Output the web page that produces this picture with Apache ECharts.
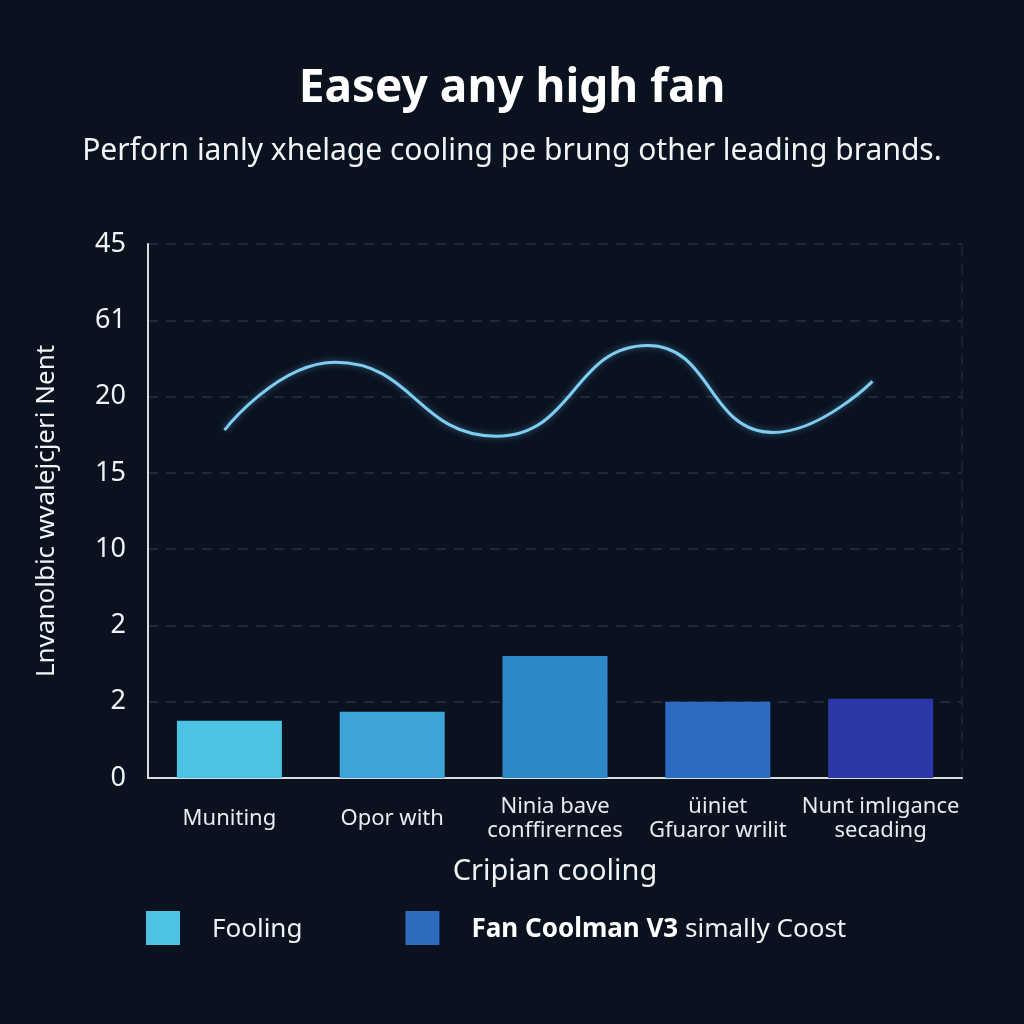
<!DOCTYPE html>
<html><head><meta charset="utf-8">
<script src="https://cdn.jsdelivr.net/npm/echarts@6/dist/echarts.min.js"></script>
<style>html,body{margin:0;padding:0;background:#0a1220;}#c{width:1024px;height:1024px;}</style>
</head><body><div id="c"></div>
<script>
const titleText = 'Easey any high fan';
const subtitleText = 'Perforn ianly xhelage cooling pe brung other leading brands.';
const categories = ['Muniting', 'Opor with', 'Ninia bave\nconffirernces', 'üiniet\nGfuaror wrilit', 'Nunt imlıgance\nsecading'];
const yTickLabels = ['0', '2', '2', '10', '15', '20', '61', '45'];
const barValues = [0.75, 0.87, 1.60, 1.00, 1.04];
const barColors = ['#4cc2e4', '#3ca4d6', '#2e88c8', '#2b6cc0', '#2c38a8'];
const lineX = [-0.03, 0.65, 1.64, 2.57, 3.34, 3.95];
const lineY = [4.56, 5.45, 4.48, 5.67, 4.53, 5.20];
const yAxisName = 'Lnvanolbic wvalejcjeri Nent';
const xAxisName = 'Cripian cooling';
const legendNames = ['Fooling', 'Fan Coolman V3 simally Coost'];

const font = 'Noto Sans';
const chart = echarts.init(document.getElementById('c'));
chart.setOption({
  backgroundColor: '#0a1220',
  animation: false,
  title: [
    {text: titleText, left: 'center', top: 61, textStyle: {color: '#ffffff', fontFamily: font, fontSize: 46, fontWeight: 'bold'}},
    {text: subtitleText, left: 'center', top: 131, textStyle: {color: '#f2f4f7', fontFamily: font, fontSize: 30, fontWeight: 'normal'}}
  ],
  grid: {left: 148, right: 62, top: 244, bottom: 246},
  legend: {
    left: 146, top: 911, padding: 0, itemWidth: 34, itemHeight: 34, itemGap: 103,
    data: [
      {name: legendNames[0], icon: 'rect', itemStyle: {color: '#4cc2e4'}},
      {name: legendNames[1], icon: 'rect', itemStyle: {color: '#2e6cc0'}}
    ],
    formatter: function (n) { return n === legendNames[1] ? '{b|Fan Coolman V3} simally Coost' : n; },
    textStyle: {color: '#f0f2f5', fontFamily: font, fontSize: 26, padding: [4, 0, 0, 27],
      rich: {b: {fontWeight: 'bold', fontSize: 26, color: '#ffffff', fontFamily: font}}}
  },
  xAxis: [
    {type: 'category', data: categories, name: xAxisName, nameLocation: 'middle', nameGap: 79,
     nameTextStyle: {color: '#f0f2f5', fontFamily: font, fontSize: 29},
     axisLine: {lineStyle: {color: '#d8dde4', width: 2}}, axisTick: {show: false},
     axisLabel: {color: '#e8ecf0', fontFamily: font, fontSize: 22, margin: 41, verticalAlign: 'middle', lineHeight: 24, interval: 0}},
    {type: 'value', min: -0.5, max: 4.5, show: false}
  ],
  yAxis: [
    {type: 'value', min: 0, max: 7, interval: 1, name: yAxisName, nameLocation: 'middle', nameGap: 88, nameRotate: 90,
     nameTextStyle: {color: '#f0f2f5', fontFamily: font, fontSize: 26},
     axisLine: {show: true, onZero: false, lineStyle: {color: '#d8dde4', width: 2}}, axisTick: {show: false},
     axisLabel: {color: '#f0f2f5', fontFamily: font, fontSize: 27, margin: 22, formatter: function (v) { return yTickLabels[Math.round(v)]; }},
     splitLine: {show: true, lineStyle: {color: '#27313f', type: [10, 8], width: 1.5}}},
    {type: 'value', min: 0, max: 7, interval: 1, position: 'right', axisLabel: {show: false}, axisTick: {show: false},
     splitLine: {show: false}, axisLine: {show: true, onZero: false, lineStyle: {color: '#1e2836', type: [10, 8], width: 1.5}}}
  ],
  series: [
    {name: legendNames[0], type: 'bar', barWidth: 105, xAxisIndex: 0, yAxisIndex: 0,
     itemStyle: {color: '#4cc2e4'},
     data: barValues.map((v, i) => ({value: v, itemStyle: {color: barColors[i]}}))},
    {name: legendNames[1], type: 'line', xAxisIndex: 1, yAxisIndex: 0, smooth: 0.5, showSymbol: false,
     lineStyle: {color: '#7fcdf0', width: 3, shadowColor: 'rgba(110,190,240,0.5)', shadowBlur: 6},
     itemStyle: {color: '#2e6cc0'},
     data: lineX.map((x, i) => [x, lineY[i]])}
  ]
});
</script>
</body></html>
